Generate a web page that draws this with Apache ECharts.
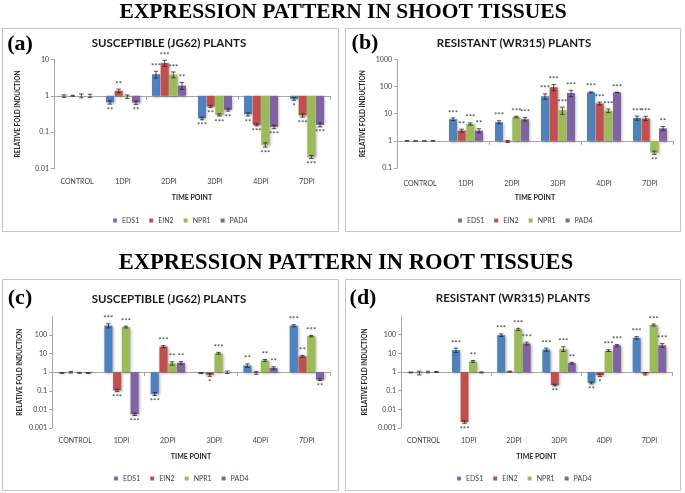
<!DOCTYPE html>
<html><head><meta charset="utf-8">
<script src="https://cdn.jsdelivr.net/npm/echarts@6/dist/echarts.min.js"></script>
<style>html,body{margin:0;padding:0;background:#fff}#c{width:685px;height:493px}</style>
</head><body><div id="c"></div>
<script>
// ---------- DATA ----------
const categories = ['CONTROL', '1DPI', '2DPI', '3DPI', '4DPI', '7DPI'];
const genes = ['EDS1', 'EIN2', 'NPR1', 'PAD4'];

// (a) shoot, susceptible JG62
const a_EDS1 = [0.98, 0.66, 3.9, 0.24, 0.31, 0.82];
const a_EIN2 = [1.0, 1.37, 7.9, 0.51, 0.16, 0.29];
const a_NPR1 = [1.0, 0.95, 3.8, 0.30, 0.045, 0.021];
const a_PAD4 = [1.0, 0.65, 1.9, 0.41, 0.14, 0.16];
const a_EDS1_err = [0.08, 0.07, 0.8, 0.02, 0.03, 0.07];
const a_EIN2_err = [0.03, 0.15, 1.5, 0.03, 0.01, 0.03];
const a_NPR1_err = [0.12, 0.10, 0.7, 0.02, 0.006, 0.002];
const a_PAD4_err = [0.10, 0.07, 0.4, 0.03, 0.015, 0.02];
const a_EDS1_sig = ['', '**', '***', '***', '**', '*'];
const a_EIN2_sig = ['', '**', '***', '**', '***', '***'];
const a_NPR1_sig = ['', '', '***', '***', '***', '***'];
const a_PAD4_sig = ['', '**', '**', '**', '***', '***'];

// (b) shoot, resistant WR315
const b_EDS1 = [1.0, 6.3, 4.9, 44, 61, 7.0];
const b_EIN2 = [1.0, 2.4, 0.95, 95, 24, 6.8];
const b_NPR1 = [1.0, 4.2, 7.6, 13.5, 13, 0.37];
const b_PAD4 = [1.0, 2.4, 6.3, 58, 61, 2.9];
const b_EDS1_err = [0.02, 0.7, 0.6, 10, 3, 1.2];
const b_EIN2_err = [0.02, 0.3, 0.08, 25, 3, 1.2];
const b_NPR1_err = [0.02, 0.4, 0.5, 4, 2, 0.05];
const b_PAD4_err = [0.02, 0.4, 0.9, 15, 1, 0.5];
const b_EDS1_sig = ['', '***', '***', '***', '***', '***'];
const b_EIN2_sig = ['', '**', '', '***', '***', '***'];
const b_NPR1_sig = ['', '***', '***', '***', '***', '**'];
const b_PAD4_sig = ['', '**', '***', '***', '***', '**'];

// (c) root, susceptible JG62
const c_EDS1 = [0.9, 320, 0.068, 0.9, 2.3, 320];
const c_EIN2 = [1.0, 0.105, 24, 0.72, 0.92, 7.2];
const c_NPR1 = [0.92, 270, 3.0, 10.5, 4.3, 88];
const c_PAD4 = [0.9, 0.0055, 3.2, 1.0, 1.7, 0.4];
const c_EDS1_err = [0.04, 80, 0.012, 0.05, 0.5, 40];
const c_EIN2_err = [0.1, 0.015, 3, 0.12, 0.15, 0.8];
const c_NPR1_err = [0.05, 30, 0.6, 1.2, 0.5, 8];
const c_PAD4_err = [0.04, 0.0008, 0.5, 0.15, 0.25, 0.04];
const c_EDS1_sig = ['', '***', '***', '', '**', '***'];
const c_EIN2_sig = ['', '***', '***', '*', '', '**'];
const c_NPR1_sig = ['', '***', '**', '***', '**', '***'];
const c_PAD4_sig = ['', '***', '**', '', '**', '**'];

// (d) root, resistant WR315
const d_EDS1 = [0.95, 15, 95, 16, 0.26, 68];
const d_EIN2 = [0.9, 0.0021, 1.05, 0.2, 0.68, 0.82];
const d_NPR1 = [1.0, 3.7, 195, 17.5, 14, 330];
const d_PAD4 = [1.0, 0.95, 34, 3.0, 27, 27];
const d_EDS1_err = [0.05, 4, 15, 3, 0.03, 10];
const d_EIN2_err = [0.2, 0.0003, 0.06, 0.02, 0.1, 0.12];
const d_NPR1_err = [0.1, 0.4, 25, 5, 1.5, 40];
const d_PAD4_err = [0.06, 0.06, 6, 0.3, 3, 6];
const d_EDS1_sig = ['', '***', '***', '***', '**', '***'];
const d_EIN2_sig = ['', '***', '', '**', '*', ''];
const d_NPR1_sig = ['', '**', '***', '***', '***', '***'];
const d_PAD4_sig = ['', '', '***', '**', '***', '***'];

// ---------- STYLE / LAYOUT ----------
const COLORS = ['#4F81BD', '#C0504D', '#9BBB59', '#8064A2'];
const CAT_GAP = 0.26, BAR_GAP = 0.08;
const FONT = 'Lato';

const panels = [
  { letter: '(a)', title: 'SUSCEPTIBLE (JG62) PLANTS', vals: [a_EDS1, a_EIN2, a_NPR1, a_PAD4],
    errs: [a_EDS1_err, a_EIN2_err, a_NPR1_err, a_PAD4_err], sigs: [a_EDS1_sig, a_EIN2_sig, a_NPR1_sig, a_PAD4_sig],
    min: 0.01, max: 10, showMax: true,
    grid: { left: 54, top: 59.3, width: 276, height: 109.4 },
    box: [2.5, 28.5, 336, 203], titlePos: [169, 43], letterPos: [20, 44],
    labelMargin: 10, nameGap: 26, yNameGap: 33, legendPos: [113, 217] },
  { letter: '(b)', title: 'RESISTANT (WR315) PLANTS', vals: [b_EDS1, b_EIN2, b_NPR1, b_PAD4],
    errs: [b_EDS1_err, b_EIN2_err, b_NPR1_err, b_PAD4_err], sigs: [b_EDS1_sig, b_EIN2_sig, b_NPR1_sig, b_PAD4_sig],
    min: 0.1, max: 1000, showMax: true,
    grid: { left: 397, top: 59.5, width: 276, height: 108.5 },
    box: [345.5, 28.5, 335, 203], titlePos: [514, 43], letterPos: [365, 43],
    labelMargin: 12, nameGap: 26.5, yNameGap: 31, legendPos: [458, 217] },
  { letter: '(c)', title: 'SUSCEPTIBLE (JG62) PLANTS', vals: [c_EDS1, c_EIN2, c_NPR1, c_PAD4],
    errs: [c_EDS1_err, c_EIN2_err, c_NPR1_err, c_PAD4_err], sigs: [c_EDS1_sig, c_EIN2_sig, c_NPR1_sig, c_PAD4_sig],
    min: 0.001, max: 1000, showMax: false,
    grid: { left: 52, top: 316.4, width: 278, height: 111.6 },
    box: [2.5, 279.5, 336, 211], titlePos: [169, 299], letterPos: [20, 298],
    labelMargin: 9, nameGap: 25.5, yNameGap: 29, legendPos: [114, 475] },
  { letter: '(d)', title: 'RESISTANT (WR315) PLANTS', vals: [d_EDS1, d_EIN2, d_NPR1, d_PAD4],
    errs: [d_EDS1_err, d_EIN2_err, d_NPR1_err, d_PAD4_err], sigs: [d_EDS1_sig, d_EIN2_sig, d_NPR1_sig, d_PAD4_sig],
    min: 0.001, max: 1000, showMax: false,
    grid: { left: 401, top: 316, width: 271, height: 112 },
    box: [345.5, 279.5, 335, 211], titlePos: [513, 298], letterPos: [363, 298],
    labelMargin: 9, nameGap: 25.5, yNameGap: 33, legendPos: [457, 475] }
];

const option = {
  animation: false, backgroundColor: '#ffffff',
  textStyle: { fontFamily: FONT },
  grid: [], xAxis: [], yAxis: [], series: [], legend: [],
  graphic: [
    { type: 'text', x: 343, y: 12, style: { text: 'EXPRESSION PATTERN IN SHOOT TISSUES', fontFamily: 'Liberation Serif', fontWeight: 'bold', fontSize: 21.5, fill: '#000', align: 'center', verticalAlign: 'middle' } },
    { type: 'text', x: 346, y: 263, style: { text: 'EXPRESSION PATTERN IN ROOT TISSUES', fontFamily: 'Liberation Serif', fontWeight: 'bold', fontSize: 22.5, fill: '#000', align: 'center', verticalAlign: 'middle' } }
  ]
};

function fmt(v) { return String(parseFloat(Number(v).toPrecision(6))); }

panels.forEach((p, pi) => {
  const g = p.grid;
  option.grid.push({ left: g.left, top: g.top, width: g.width, height: g.height });
  // category labels at bottom
  option.xAxis.push({
    type: 'category', gridIndex: pi, data: categories, position: 'bottom',
    axisLine: { show: false, onZero: false }, axisTick: { show: false },
    axisLabel: { fontSize: 7, color: '#404040', margin: p.labelMargin, fontFamily: FONT },
    name: 'TIME POINT', nameLocation: 'middle', nameGap: p.nameGap,
    nameTextStyle: { fontSize: 7, fontWeight: 'bold', color: '#262626', fontFamily: FONT }
  });
  // axis line drawn at fold = 1
  const frac = (0 - Math.log10(p.min)) / (Math.log10(p.max) - Math.log10(p.min));
  option.xAxis.push({
    type: 'category', gridIndex: pi, data: categories, position: 'bottom',
    offset: -g.height * frac,
    axisLine: { show: true, onZero: false, lineStyle: { color: '#a6a6a6', width: 1 } },
    axisTick: { show: true, length: 4, lineStyle: { color: '#a6a6a6' } },
    axisLabel: { show: false }
  });
  option.yAxis.push({
    type: 'log', logBase: 10, gridIndex: pi, min: p.min, max: p.max,
    axisLine: { show: true, lineStyle: { color: '#a6a6a6' } },
    axisTick: { show: true, length: 3, lineStyle: { color: '#a6a6a6' } },
    splitLine: { show: false },
    axisLabel: { fontSize: 7, color: '#404040', margin: 5, showMaxLabel: p.showMax, formatter: fmt, fontFamily: FONT },
    name: 'RELATIVE FOLD INDUCTION', nameLocation: 'middle', nameGap: p.yNameGap, nameRotate: 90,
    nameTextStyle: { fontSize: 6.5, fontWeight: 'bold', color: '#262626', fontFamily: FONT }
  });
  genes.forEach((gn, gi) => {
    option.series.push({
      type: 'bar', name: gn, xAxisIndex: 2 * pi, yAxisIndex: pi,
      data: p.vals[gi], barCategoryGap: (CAT_GAP * 100) + '%', barGap: (BAR_GAP * 100) + '%',
      itemStyle: { color: COLORS[gi], shadowBlur: 3, shadowColor: 'rgba(0,0,0,0.35)', shadowOffsetX: 1, shadowOffsetY: 1 }
    });
  });
  genes.forEach((gn, gi) => {
    const sig = p.sigs[gi];
    option.series.push({
      type: 'custom', name: gn + ' err', xAxisIndex: 2 * pi, yAxisIndex: pi, z: 5, silent: true,
      data: p.vals[gi].map((v, ci) => [ci, v, p.errs[gi][ci]]),
      renderItem: function (params, api) {
        const ci = api.value(0), v = api.value(1), e = api.value(2);
        const c0 = api.coord([ci, v]);
        const catW = api.coord([1, 1])[0] - api.coord([0, 1])[0];
        const groupW = catW * (1 - CAT_GAP);
        const bw = groupW / (4 + 3 * BAR_GAP);
        const x = c0[0] - groupW / 2 + gi * bw * (1 + BAR_GAP) + bw / 2;
        const yHi = api.coord([ci, v + e])[1];
        const yLo = api.coord([ci, Math.max(v - e, v * 0.2)])[1];
        const cap = 2.2;
        const ls = { stroke: '#262626', lineWidth: 0.8 };
        const children = [
          { type: 'line', shape: { x1: x, y1: yHi, x2: x, y2: yLo }, style: ls },
          { type: 'line', shape: { x1: x - cap, y1: yHi, x2: x + cap, y2: yHi }, style: ls },
          { type: 'line', shape: { x1: x - cap, y1: yLo, x2: x + cap, y2: yLo }, style: ls }
        ];
        const s = sig[ci];
        if (s) {
          const up = v >= 1;
          children.push({ type: 'text', x: x, y: up ? yHi - 1 : yLo + 2,
            style: { text: s, fontSize: 8, fontFamily: FONT, fill: '#404040', align: 'center', verticalAlign: up ? 'bottom' : 'top' } });
        }
        return { type: 'group', children: children };
      }
    });
  });
  option.legend.push({
    data: genes, left: p.legendPos[0], top: p.legendPos[1], padding: 0,
    icon: 'rect', itemWidth: 4, itemHeight: 4, itemGap: 10, selectedMode: false,
    textStyle: { fontSize: 7, color: '#404040', fontFamily: FONT }
  });
  option.graphic.push(
    { type: 'rect', shape: { x: p.box[0], y: p.box[1], width: p.box[2], height: p.box[3] }, style: { fill: 'none', stroke: '#c4c4c4', lineWidth: 1 }, z: -10 },
    { type: 'text', x: p.titlePos[0], y: p.titlePos[1], style: { text: p.title, fontFamily: FONT, fontWeight: 'bold', fontSize: 11.5, fill: '#1a1a1a', align: 'center', verticalAlign: 'middle' } },
    { type: 'text', x: p.letterPos[0], y: p.letterPos[1], style: { text: p.letter, fontFamily: 'Liberation Serif', fontWeight: 'bold', fontSize: 22, fill: '#000', align: 'center', verticalAlign: 'middle' } }
  );
});

const chart = echarts.init(document.getElementById('c'), null, { renderer: 'canvas' });
chart.setOption(option);
</script>
</body></html>
